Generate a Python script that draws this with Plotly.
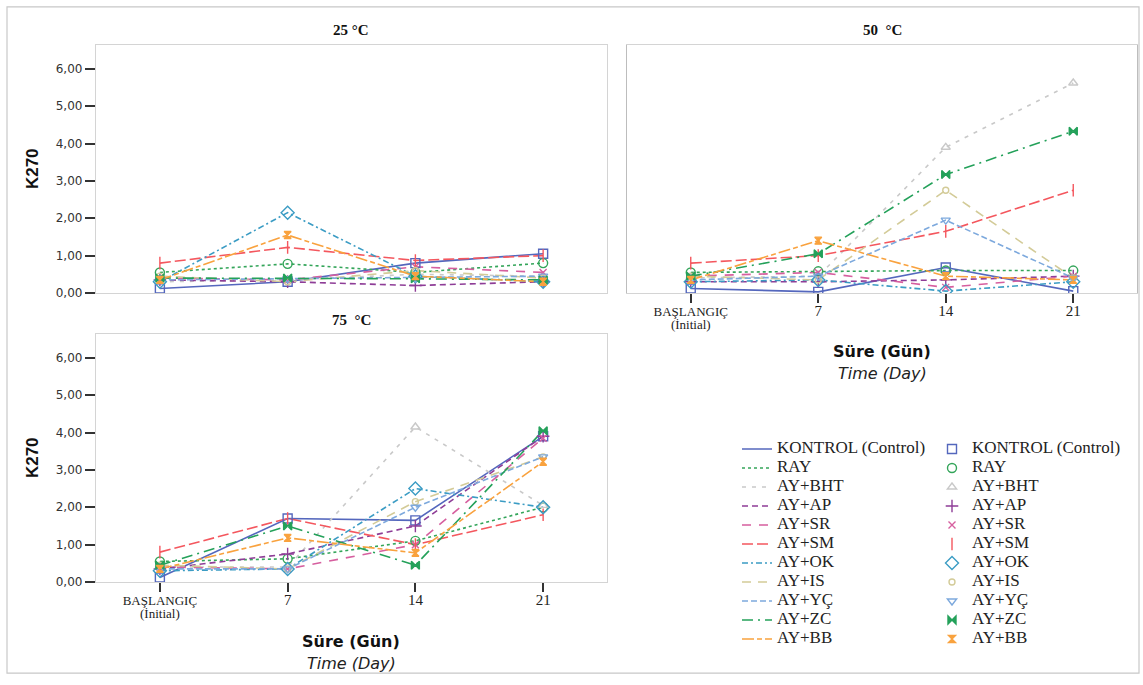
import plotly.graph_objects as go

# ---------------- data ----------------
day_labels = ["BAŞLANGIÇ<br>(İnitial)", "7", "14", "21"]
day_pos = [0, 1, 2, 3]

series = ["KONTROL (Control)", "RAY", "AY+BHT", "AY+AP", "AY+SR", "AY+SM",
          "AY+OK", "AY+IS", "AY+YÇ", "AY+ZC", "AY+BB"]

# K270 values, one row per series (order as in `series`), columns: Initial, 7, 14, 21
k270_25 = [
    [0.12, 0.30, 0.80, 1.05],
    [0.55, 0.78, 0.55, 0.80],
    [0.30, 0.35, 0.50, 0.45],
    [0.35, 0.30, 0.20, 0.30],
    [0.40, 0.35, 0.70, 0.55],
    [0.80, 1.22, 0.87, 1.00],
    [0.30, 2.15, 0.45, 0.30],
    [0.45, 0.30, 0.60, 0.40],
    [0.35, 0.38, 0.40, 0.45],
    [0.40, 0.40, 0.38, 0.35],
    [0.35, 1.55, 0.45, 0.30],
]
k270_50 = [
    [0.12, 0.03, 0.68, 0.05],
    [0.55, 0.58, 0.60, 0.60],
    [0.40, 0.45, 3.90, 5.62],
    [0.30, 0.30, 0.35, 0.45],
    [0.45, 0.55, 0.15, 0.45],
    [0.80, 1.00, 1.65, 2.75],
    [0.30, 0.35, 0.05, 0.30],
    [0.45, 0.35, 2.75, 0.40],
    [0.35, 0.45, 1.95, 0.40],
    [0.45, 1.05, 3.17, 4.33],
    [0.35, 1.40, 0.45, 0.35],
]
k270_75 = [
    [0.12, 1.70, 1.65, 3.90],
    [0.55, 0.62, 1.10, 2.00],
    [0.40, 0.40, 4.15, 2.05],
    [0.35, 0.75, 1.50, 3.90],
    [0.40, 0.35, 1.00, 3.85],
    [0.80, 1.70, 1.00, 1.80],
    [0.30, 0.35, 2.50, 2.00],
    [0.45, 0.35, 2.15, 3.35],
    [0.35, 0.35, 2.00, 3.35],
    [0.45, 1.50, 0.45, 4.05],
    [0.35, 1.18, 0.78, 3.22],
]
y_ticks = [0, 1, 2, 3, 4, 5, 6]
y_tick_labels = ["0,00", "1,00", "2,00", "3,00", "4,00", "5,00", "6,00"]

# ---------------- styles ----------------
colors = ["#5467BD", "#34A55A", "#C9C9C9", "#8E3D97", "#D65F9F", "#F4575E",
          "#3B9CC4", "#D3CB98", "#7DA9DD", "#24A15A", "#F9A23E"]
dashes = ["solid", "3px,3px", "4px,6px", "6px,4px", "9px,8px", "11px,4px",
          "6px,3px,2px,3px", "9px,7px", "6px,3px", "11px,5px,2px,5px", "12px,3px,5px,3px"]
symbols = ["square-open", "circle-open", "triangle-up-open", "cross-thin-open",
           "x-thin-open", "line-ns-open", "diamond-open", "circle-open",
           "triangle-down-open", "bowtie", "hourglass"]
sizes = [9, 9, 8, 9, 7, 9, 10, 6, 8, 8, 7]

W, H = 1143, 685
fig = go.Figure()

def legend_name(s):
    return "<span style='font-size:17px'>" + s + "</span>"

panels = [(k270_25, "x", "y"), (k270_50, "x2", "y2"), (k270_75, "x3", "y3")]
for p, (data, xa, ya) in enumerate(panels):
    for i, name in enumerate(series):
        fig.add_trace(go.Scatter(
            x=day_pos, y=data[i], mode="lines", name=legend_name(name),
            line=dict(color=colors[i], width=1.6, dash=dashes[i]),
            xaxis=xa, yaxis=ya, showlegend=(p == 0), legend="legend",
            hoverinfo="skip"))
    for i, name in enumerate(series):
        fig.add_trace(go.Scatter(
            x=day_pos, y=data[i], mode="markers", name=legend_name(name),
            marker=dict(color=colors[i], size=sizes[i], symbol=symbols[i],
                        line=dict(color=colors[i], width=1.4)),
            xaxis=xa, yaxis=ya, showlegend=(p == 0), legend="legend2"))

def px_x(a, b):
    return [a / W, b / W]

def px_y(top, bottom):
    return [1 - bottom / H, 1 - top / H]

tick_text = ["<span style='font-size:13px'>" + day_labels[0] + "</span>"] + \
            ["<span style='font-size:15px'>" + t + "</span>" for t in day_labels[1:]]

frame = dict(showline=True, linecolor="#D4D4D4", linewidth=1.3, mirror=True,
             showgrid=False, zeroline=False)
xcommon = dict(range=[-0.5, 3.5], tickvals=day_pos, ticktext=tick_text,
               tickfont=dict(family="Liberation Serif", size=10.5, color="#222"),
               ticks="outside", ticklen=9, tickwidth=2, tickcolor="#333", **frame)
ycommon = dict(range=[0, 6.65], tickvals=y_ticks, ticktext=y_tick_labels,
               tickfont=dict(family="DejaVu Sans", size=12, color="#333"),
               ticks="outside", ticklen=10, tickwidth=1.5, tickcolor="#333", **frame)

ytitle = dict(text="<b>K270</b>", font=dict(family="Liberation Sans Narrow, Liberation Sans", size=17, color="#111"), standoff=12)

legend_font = dict(family="Liberation Serif", size=11.2, color="#222")

fig.update_layout(
    width=W, height=H, margin=dict(l=0, r=0, t=0, b=0),
    paper_bgcolor="white", plot_bgcolor="white",
    xaxis=dict(domain=px_x(96, 607), anchor="y", **{**xcommon, "showticklabels": False, "ticks": ""}),
    yaxis=dict(domain=px_y(45, 296), anchor="x", title=ytitle, **ycommon),
    xaxis2=dict(domain=px_x(627, 1137), anchor="y2", **xcommon),
    yaxis2=dict(domain=px_y(45, 296), anchor="x2", **{**ycommon, "showticklabels": False, "ticks": "", "linecolor": "#BDBDBD"}),
    xaxis3=dict(domain=px_x(96, 607), anchor="y3", **xcommon),
    yaxis3=dict(domain=px_y(337, 588), anchor="x3", title=ytitle, **ycommon),
    legend=dict(x=737 / W, y=1 - 439 / H, xanchor="left", yanchor="top",
                font=legend_font, bgcolor="rgba(0,0,0,0)", itemwidth=30, tracegroupgap=0),
    legend2=dict(x=932 / W, y=1 - 439 / H, xanchor="left", yanchor="top",
                 font=legend_font, bgcolor="rgba(0,0,0,0)", itemwidth=30, tracegroupgap=0),
    shapes=[dict(type="rect", xref="paper", yref="paper",
                 x0=7 / W, x1=1139 / W, y0=1 - 680 / H, y1=1 - 7 / H,
                 line=dict(color="#C8C8C8", width=1.2))],
)

def ann(text, x, y, size, family, color="#111"):
    fig.add_annotation(text=text, x=x / W, y=1 - y / H, xref="paper", yref="paper",
                       showarrow=False, font=dict(family=family, size=size, color=color),
                       xanchor="center", yanchor="middle")

ann("<b>25 °C</b>", 351, 30, 15, "Liberation Serif")
ann("<b>50  °C</b>", 882, 30, 15, "Liberation Serif")
ann("<b>75  °C</b>", 351, 323, 15, "Liberation Serif")
ann("<b>Süre (Gün)</b>", 882, 355, 16, "DejaVu Sans")
ann("<i>Time (Day)</i>", 882, 377, 16, "DejaVu Sans", "#222")
ann("<b>Süre (Gün)</b>", 351, 648, 16, "DejaVu Sans")
ann("<i>Time (Day)</i>", 351, 670, 16, "DejaVu Sans", "#222")

fig.write_html("out.html")
